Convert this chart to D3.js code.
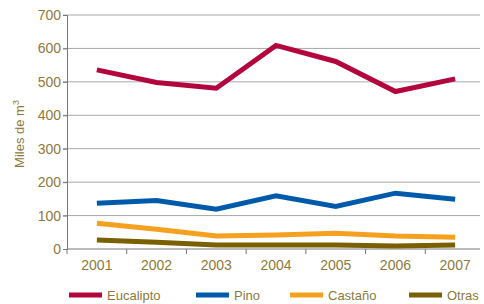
<!DOCTYPE html>
<html lang="es">
<head>
<meta charset="UTF-8">
<title>Miles de m3</title>
<script src="https://d3js.org/d3.v7.min.js"></script>
<style>
  body { margin: 0; background: #fff; }
  text { font-family: "Liberation Sans", Arial, sans-serif; fill: #8c7a3a; }
</style>
</head>
<body>
<div id="chart"></div>
<script>
const years = ["2001", "2002", "2003", "2004", "2005", "2006", "2007"]
const eucalipto = [536, 498, 481, 609, 561, 471, 509]
const pino = [137, 145, 119, 159, 127, 167, 149]
const castano = [77, 59, 39, 42, 47, 39, 35]
const otras = [27, 20, 12, 12, 12, 9, 12]
const yTicks = [0, 100, 200, 300, 400, 500, 600, 700]

const series = [
    {name: "Eucalipto", values: eucalipto, color: "#b3063d"},
    {name: "Pino", values: pino, color: "#005aaa"},
    {name: "Castaño", values: castano, color: "#f5a11f"},
    {name: "Otras", values: otras, color: "#7a6000"}
]

const width = 484
const height = 304
const plotLeft = 67, plotRight = 485, plotTop = 15, plotBottom = 249

const x = d3.scaleBand().domain(years).range([plotLeft, plotRight])
const y = d3.scaleLinear().domain([0, 700]).range([plotBottom, plotTop])

const svg = d3.select("#chart").append("svg")
    .attr("width", width)
    .attr("height", height)

// grid lines
svg.append("g")
    .selectAll("line")
    .data(yTicks.filter(d => d > 0))
    .enter().append("line")
    .attr("x1", plotLeft - 4).attr("x2", 480)
    .attr("y1", d => y(d)).attr("y2", d => y(d))
    .attr("stroke", "#a8a8a8").attr("stroke-width", 1)

// y axis
const yAxis = svg.append("g")
    .attr("transform", `translate(${plotLeft},0)`)
    .call(d3.axisLeft(y).tickValues(yTicks).tickSize(4).tickPadding(2))
yAxis.select(".domain").attr("stroke", "#777")
yAxis.selectAll(".tick line").attr("stroke", "#777")
yAxis.selectAll("text").attr("font-size", 14).attr("fill", "#8c7a3a")

// x axis
const xAxis = svg.append("g")
    .attr("transform", `translate(0,${plotBottom})`)
    .call(d3.axisBottom(x).tickSize(0).tickPadding(11))
xAxis.select(".domain").attr("stroke", "#777").attr("d", `M${plotLeft},0H480`)
xAxis.selectAll("text").attr("font-size", 14).attr("fill", "#8c7a3a")

// tick marks between bands
svg.append("g")
    .selectAll("line")
    .data(years)
    .enter().append("line")
    .attr("x1", d => x(d)).attr("x2", d => x(d))
    .attr("y1", plotBottom).attr("y2", plotBottom + 5)
    .attr("stroke", "#777")

// y axis title
svg.append("text")
    .attr("transform", "translate(24,134) rotate(-90)")
    .attr("text-anchor", "middle")
    .attr("font-size", 13)
    .html('Miles de m<tspan dy="-5" font-size="9">3</tspan>')

const line = d3.line()
    .x((d, i) => x(years[i]) + x.bandwidth() / 2)
    .y(d => y(d))

svg.append("g")
    .selectAll("path")
    .data(series)
    .enter().append("path")
    .attr("d", d => line(d.values))
    .attr("fill", "none")
    .attr("stroke", d => d.color)
    .attr("stroke-width", 5)

// legend
const legendX = [69, 196, 290, 409]
const legend = svg.append("g")
    .selectAll("g")
    .data(series)
    .enter().append("g")
    .attr("transform", (d, i) => `translate(${legendX[i]},295)`)
legend.append("rect")
    .attr("x", 0).attr("y", -2.5)
    .attr("width", 33).attr("height", 5)
    .attr("fill", d => d.color)
legend.append("text")
    .attr("x", 38).attr("y", 4.5)
    .attr("font-size", 13)
    .text(d => d.name)
</script>
</body>
</html>
